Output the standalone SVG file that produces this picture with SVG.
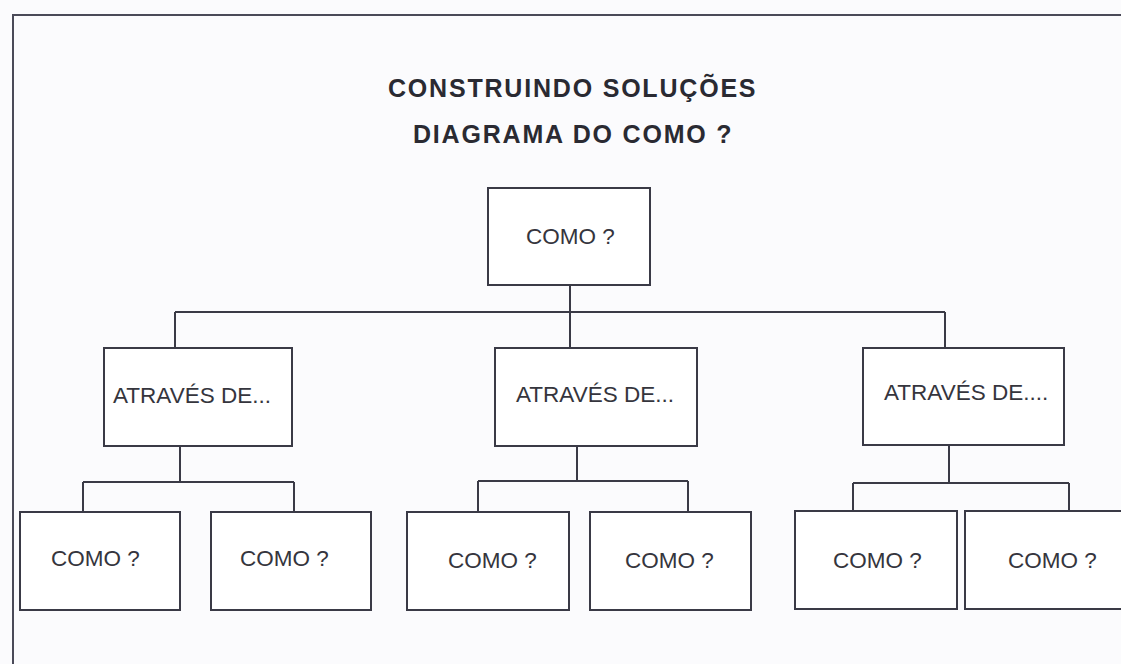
<svg xmlns="http://www.w3.org/2000/svg" width="1121" height="664" viewBox="0 0 1121 664">
  <style>
    .box { fill: #ffffff; stroke: #3a3a46; stroke-width: 2; }
    .conn { fill: none; stroke: #3a3a46; stroke-width: 2; }
    .frame { fill: none; stroke: #4a4a58; stroke-width: 2; }
    .lbl { font-family: "Liberation Sans", Arial, sans-serif; font-size: 22.5px; fill: #35353d; }
    .title { font-family: "Liberation Sans", Arial, sans-serif; font-size: 25px; font-weight: bold; fill: #2a2a32; letter-spacing: 1.8px; }
  </style>
  <rect x="0" y="0" width="1121" height="664" fill="#fbfbfd"/>
  <path class="frame" d="M13 664 V15 H1121"/>

  <g id="title">
    <text class="title" x="388" y="97">CONSTRUINDO SOLUÇÕES</text>
    <text class="title" x="413" y="143">DIAGRAMA DO COMO ?</text>
  </g>

  <g id="connectors">
    <path class="conn" d="M570 285 V348 M175 312 H945 M175 312 V348 M945 312 V348"/>
    <path class="conn" d="M180 446 V482 M83 482 H294 M83 482 V512 M294 482 V512"/>
    <path class="conn" d="M577 446 V481 M478 481 H688 M478 481 V512 M688 481 V512"/>
    <path class="conn" d="M949 445 V483 M853 483 H1069 M853 483 V511 M1069 483 V511"/>
  </g>

  <g id="root">
    <rect class="box" x="488" y="188" width="162" height="97"/>
    <text class="lbl" x="526" y="244">COMO ?</text>
  </g>

  <g id="atraves1">
    <rect class="box" x="104" y="348" width="188" height="98"/>
    <text class="lbl" x="113" y="403">ATRAVÉS DE...</text>
  </g>
  <g id="atraves2">
    <rect class="box" x="495" y="348" width="202" height="98"/>
    <text class="lbl" x="516" y="402">ATRAVÉS DE...</text>
  </g>
  <g id="atraves3">
    <rect class="box" x="863" y="348" width="201" height="97"/>
    <text class="lbl" x="884" y="400">ATRAVÉS DE....</text>
  </g>

  <g id="como1">
    <rect class="box" x="20" y="512" width="160" height="98"/>
    <text class="lbl" x="51" y="566">COMO ?</text>
  </g>
  <g id="como2">
    <rect class="box" x="211" y="512" width="160" height="98"/>
    <text class="lbl" x="240" y="566">COMO ?</text>
  </g>
  <g id="como3">
    <rect class="box" x="407" y="512" width="162" height="98"/>
    <text class="lbl" x="448" y="568">COMO ?</text>
  </g>
  <g id="como4">
    <rect class="box" x="590" y="512" width="161" height="98"/>
    <text class="lbl" x="625" y="568">COMO ?</text>
  </g>
  <g id="como5">
    <rect class="box" x="795" y="511" width="162" height="98"/>
    <text class="lbl" x="833" y="568">COMO ?</text>
  </g>
  <g id="como6">
    <rect class="box" x="965" y="511" width="170" height="98"/>
    <text class="lbl" x="1008" y="568">COMO ?</text>
  </g>
</svg>
